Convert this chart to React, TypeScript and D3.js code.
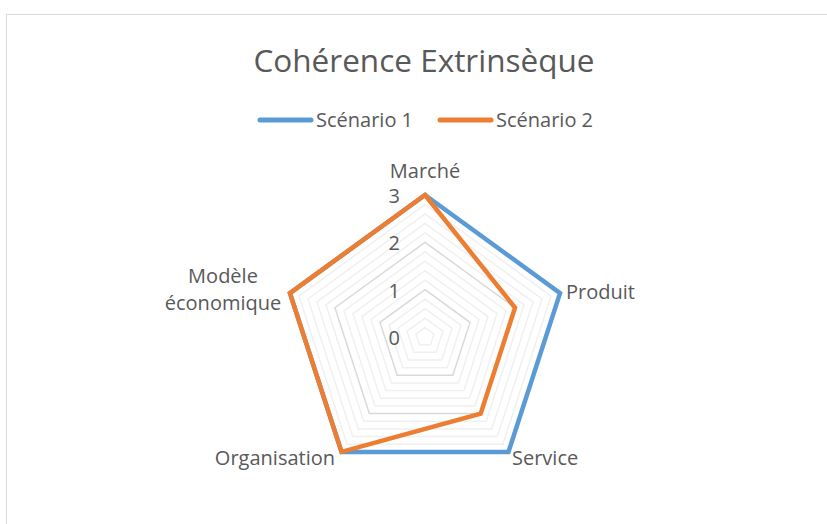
import React from "react";
import * as d3 from "d3";

const categories = ["Marché", "Produit", "Service", "Organisation", "Modèle économique"];
const scenario1 = [3, 3, 3, 3, 3];
const scenario2 = [3, 2, 2, 3, 3];
const seriesNames = ["Scénario 1", "Scénario 2"];
const tickLabels = [0, 1, 2, 3];

const W = 827;
const H = 524;
const FONT = "'Open Sans', sans-serif";
const TEXT = "#595959";
const colors = ["#5B9BD5", "#ED7D31"];

export default function App() {
  const cx = 425;
  const cy = 337;
  const R = 142;
  const r = d3.scaleLinear().domain([0, 3]).range([0, R]);
  const n = categories.length;
  const angle = (i: number) => (i * 2 * Math.PI) / n;
  const pt = (i: number, v: number): [number, number] => [
    cx + r(v) * Math.sin(angle(i)),
    cy - r(v) * Math.cos(angle(i)),
  ];
  const gridVals = d3.range(0, 3.0001, 0.2).map((v) => Math.round(v * 10) / 10);
  const line = d3.line<[number, number]>().curve(d3.curveLinearClosed);
  const series = [scenario1, scenario2];

  const labelPos: { x: number; y: number; anchor: string; lines: string[] }[] = [
    { x: 425, y: 178, anchor: "middle", lines: ["Marché"] },
    { x: 566, y: 299, anchor: "start", lines: ["Produit"] },
    { x: 512, y: 465, anchor: "start", lines: ["Service"] },
    { x: 335, y: 465, anchor: "end", lines: ["Organisation"] },
    { x: 223, y: 283, anchor: "middle", lines: ["Modèle", "économique"] },
  ];

  return (
    <svg width={W} height={H} style={{ position: "absolute", left: 0, top: 0, background: "#fff" }}>
      <rect x={6.5} y={14.5} width={W} height={H} fill="#fff" stroke="#D9D9D9" strokeWidth={1} />
      <text x={424} y={72} textAnchor="middle" fontFamily={FONT} fontSize={31.5} fill={TEXT}>
        Cohérence Extrinsèque
      </text>
      {seriesNames.map((s, i) => (
        <g key={s} transform={`translate(${i === 0 ? 260 : 440},120)`}>
          <line x1={0} x2={51} y1={0} y2={0} stroke={colors[i]} strokeWidth={5} strokeLinecap="round" />
          <text x={56} y={7} fontFamily={FONT} fontSize={20} fill={TEXT}>
            {s}
          </text>
        </g>
      ))}
      {gridVals.map((v) => {
        const major = Math.abs(v - Math.round(v)) < 1e-6;
        if (v === 0) return null;
        return (
          <path
            key={v}
            d={line(categories.map((_, i) => pt(i, v))) || ""}
            fill="none"
            stroke={major ? "#D9D9D9" : "#F0F0F0"}
            strokeWidth={1.5}
          />
        );
      })}
      {tickLabels.map((t) => (
        <text key={t} x={400} y={cy - r(t) + 8} textAnchor="end" fontFamily={FONT} fontSize={20} fill={TEXT}>
          {t}
        </text>
      ))}
      {series.map((s, si) => (
        <path
          key={si}
          d={line(s.map((v, i) => pt(i, v))) || ""}
          fill="none"
          stroke={colors[si]}
          strokeWidth={4.5}
          strokeLinejoin="miter"
        />
      ))}
      {labelPos.map((l, i) => (
        <text key={i} x={l.x} y={l.y} textAnchor={l.anchor} fontFamily={FONT} fontSize={20} fill={TEXT}>
          {l.lines.map((ln, j) => (
            <tspan key={j} x={l.x} dy={j === 0 ? 0 : 27}>
              {ln}
            </tspan>
          ))}
        </text>
      ))}
    </svg>
  );
}
